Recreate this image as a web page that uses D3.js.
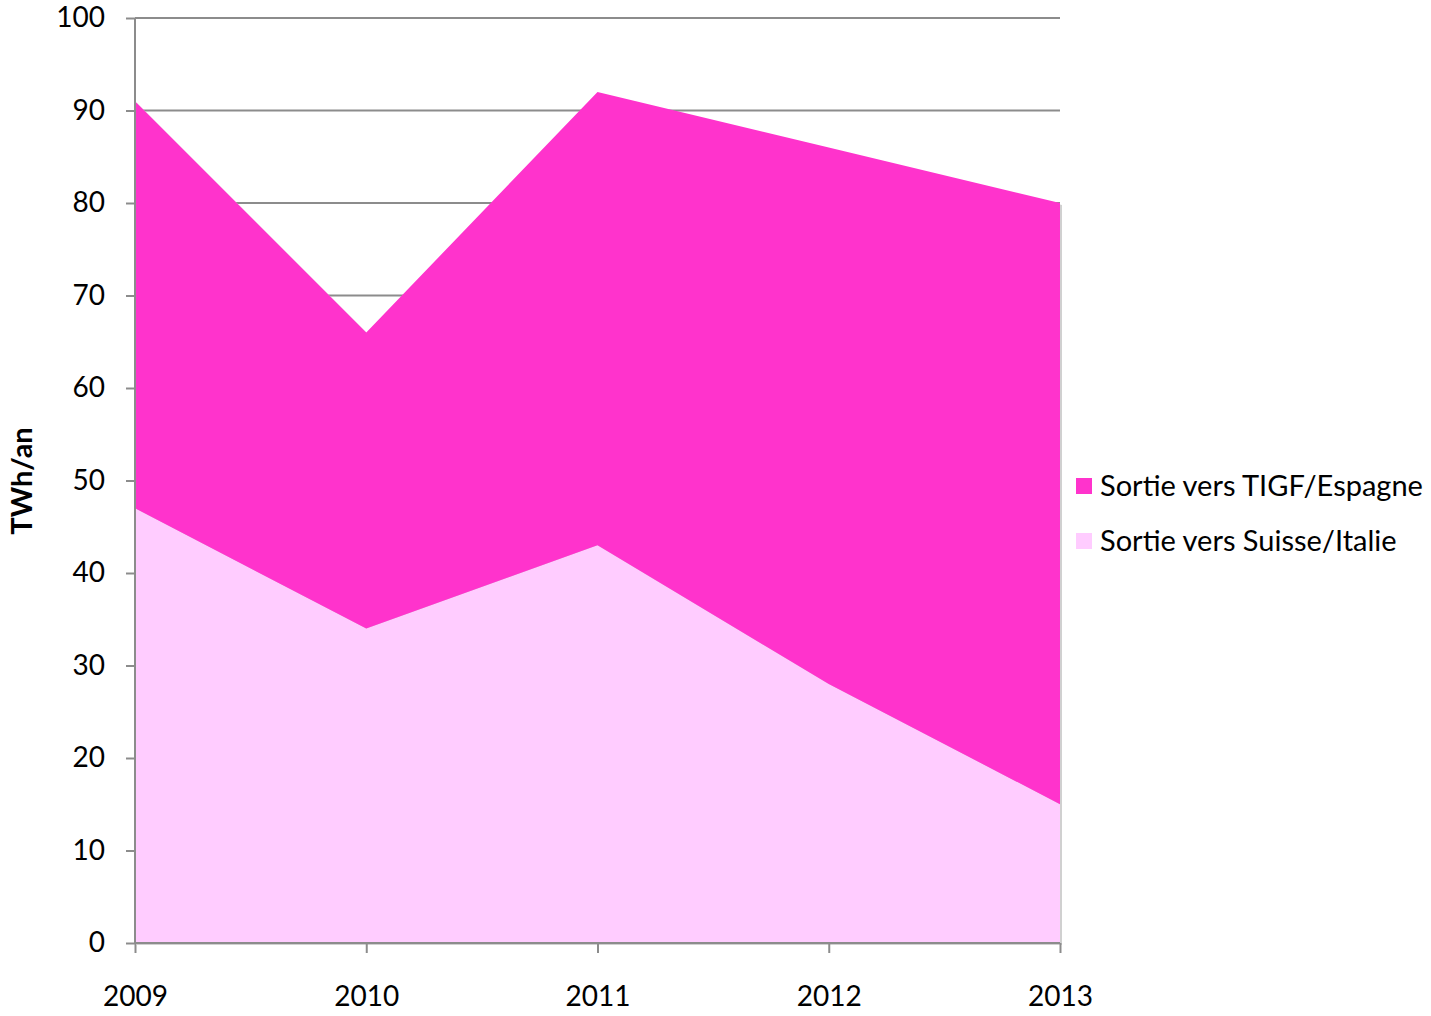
<!DOCTYPE html>
<html><head><meta charset="utf-8">
<script src="https://cdn.jsdelivr.net/npm/d3@7"></script>
<style>body{margin:0;background:#fff}text{font-family:Lato,"Open Sans",sans-serif}</style>
</head><body><svg id="c" width="1431" height="1016"></svg>
<script>
const years = ["2009","2010","2011","2012","2013"];
const suisseItalie = [47, 34, 43, 28, 15];
const tigfEspagne = [44, 32, 49, 58, 65];
const yTicks = [0,10,20,30,40,50,60,70,80,90,100];
const seriesNames = ["Sortie vers TIGF/Espagne","Sortie vers Suisse/Italie"];
const colors = {tigf:"#FF33CC", suisse:"#FFCCFF"};

const svg = d3.select("#c");
const L=135,R=1060,T=18,B=943;
const x = d3.scalePoint().domain(years).range([L,R]);
const y = d3.scaleLinear().domain([0,100]).range([B,T]);

const rows = years.map((yr,i)=>({year:yr, suisse:suisseItalie[i], tigf:tigfEspagne[i]}));
const stack = d3.stack().keys(["suisse","tigf"])(rows);

// grid
svg.append("g").selectAll("line").data(yTicks.filter(d=>d>0)).join("line")
  .attr("x1",L).attr("x2",R).attr("y1",d=>y(d)).attr("y2",d=>y(d))
  .attr("stroke","#8c8c8c").attr("stroke-width",2);

const area = d3.area().x(d=>x(d.data.year)).y0(d=>y(d[0])).y1(d=>y(d[1]));
// shadow
svg.append("path").datum(stack[1]).attr("d",d3.area().x(d=>x(d.data.year)+2).y0(d=>y(0)+2).y1(d=>y(d[1])+2))
  .attr("fill","#d0d0d0");
svg.selectAll("path.a").data(stack).join("path").attr("class","a")
  .attr("d",area).attr("fill",d=>d.key==="tigf"?colors.tigf:colors.suisse);

// axes
const ya = svg.append("g").attr("transform",`translate(${L},0)`)
  .call(d3.axisLeft(y).tickValues(yTicks).tickSize(9).tickPadding(21));
const xa = svg.append("g").attr("transform",`translate(0,${B})`)
  .call(d3.axisBottom(x).tickSize(10).tickPadding(33));
[ya,xa].forEach(g=>{
  g.select(".domain").attr("stroke","#8c8c8c").attr("stroke-width",2);
  g.selectAll(".tick line").attr("stroke","#8c8c8c").attr("stroke-width",2);
  g.selectAll("text").attr("font-size",28).attr("fill","#000").style("font-family","Lato,sans-serif");
});
ya.select(".domain").attr("d",`M0,${B}V${T}`);
xa.select(".domain").attr("d",`M${L},0H${R}`);

svg.append("text").attr("transform","translate(32,481) rotate(-90)")
  .attr("text-anchor","middle").attr("font-size",29).attr("font-weight","bold").text("TWh/an");

// legend
const lg = svg.append("g");
[[seriesNames[0],colors.tigf,486],[seriesNames[1],colors.suisse,541]].forEach(([t,c,cy])=>{
  lg.append("rect").attr("x",1076).attr("y",cy-8).attr("width",16).attr("height",16).attr("fill",c);
  lg.append("text").attr("x",1100).attr("y",cy+10).attr("font-size",29).text(t);
});
</script></body></html>
